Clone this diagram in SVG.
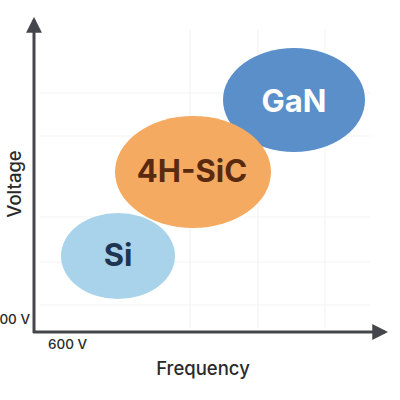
<svg xmlns="http://www.w3.org/2000/svg" width="400" height="400" viewBox="0 0 400 400">
<style>
.grid{stroke:#f4f4f4;stroke-width:1.2;fill:none}
.axis{stroke:#45464b;stroke-width:3;fill:none}
.lbl{font-family:Inter,"Liberation Sans",sans-serif;fill:#2a2a2a;font-weight:500}
.nt{font-family:Inter,"Liberation Sans",sans-serif;font-weight:700;font-size:31px;text-anchor:middle;dominant-baseline:central}
</style>
<defs>
<marker id="ah" viewBox="0 0 10 10" refX="8" refY="5" markerWidth="5.3" markerHeight="5.3" orient="auto" markerUnits="strokeWidth">
<path d="M0,0 L10,5 L0,10 Z" fill="#45464b"/>
</marker>
</defs>
<rect width="400" height="400" fill="#ffffff"/>
<g id="grid">
<path class="grid" d="M40,93 H370 M40,136 H370 M40,217 H370 M40,262 H370 M40,305 H370 M190,30 V328 M258,30 V328 M325,30 V328"/>
</g>
<g id="connectors">
<line class="axis" x1="34" y1="333" x2="34" y2="20" marker-end="url(#ah)"/>
<line class="axis" x1="33" y1="332" x2="385" y2="332" marker-end="url(#ah)"/>
</g>
<g id="GaN">
<ellipse cx="294" cy="100" rx="71" ry="52" fill="#5b8fca"/>
<text class="nt" x="294" y="100" fill="#ffffff">GaN</text>
</g>
<g id="SiC">
<ellipse cx="193" cy="172" rx="78" ry="56" fill="#f5aa61"/>
<text class="nt" x="192" y="170" fill="#5a2a10">4H-SiC</text>
</g>
<g id="Si">
<ellipse cx="118" cy="256" rx="57" ry="43" fill="#a9d3ea"/>
<text class="nt" x="118" y="254" fill="#1e3552">Si</text>
</g>
<g id="labels">
<text class="lbl" x="0" y="0" font-size="18.5" text-anchor="middle" transform="translate(21,184) rotate(-90)">Voltage</text>
<text class="lbl" x="30" y="324" font-size="13.5" text-anchor="end">00 V</text>
<text class="lbl" x="48" y="349" font-size="13.5">600 V</text>
<text class="lbl" x="203" y="375" font-size="18.5" text-anchor="middle">Frequency</text>
</g>
</svg>
